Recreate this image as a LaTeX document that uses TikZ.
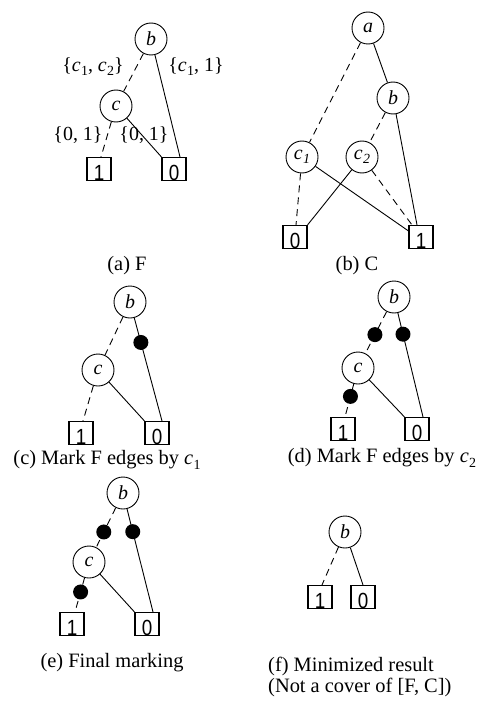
\documentclass[tikz,border=0pt]{standalone}
\usepackage{fontspec}
\setmainfont{Liberation Serif}
\newfontfamily\digitfont{Liberation Sans}
\usetikzlibrary{calc}

% italic c with a lowered index
\newcommand\cvar[1]{\textit{c}\kern0.3pt\raisebox{-0.45ex}{\fontsize{14}{14}\selectfont #1}}
% narrow terminal digit
\newcommand\leafdigit[1]{\scalebox{0.86}[1]{#1}}

\tikzset{
  vnode/.style={circle, draw, line width=0.9bp, minimum size=32bp, inner sep=0pt,
                font=\fontsize{20}{20}\selectfont\itshape},
  leaf/.style={draw, line width=1.1bp, minimum width=24bp, minimum height=23bp, inner sep=0pt,
               text height=22bp, text depth=0pt, font=\fontsize{22}{22}\digitfont},
  lo/.style={line width=0.9bp, dash pattern=on 7bp off 5bp},
  hi/.style={line width=0.9bp},
  dot/.style={circle, fill, minimum size=15bp, inner sep=0pt},
  setlbl/.style={font=\fontsize{20}{20}\selectfont, inner sep=0pt},
  captxt/.style={font=\fontsize{20.5}{22}\selectfont, inner sep=0pt}
}

\begin{document}
\begin{tikzpicture}[x=1bp, y=-1bp]
\useasboundingbox (0,0) rectangle (483,702);

% ---------- (a) F ----------
\node[vnode] (ab) at (151,39) {b};
\node[vnode] (ac) at (116,106) {c};
\node[leaf] (a1) at (99,169) {\leafdigit{1}};
\node[leaf] (a0) at (174,169) {\leafdigit{0}};
\draw[lo] (ab) -- (ac);
\draw[hi] (ab) -- ([xshift=6bp]a0.north);
\draw[lo] (ac) -- ([xshift=2bp]a1.north);
\draw[hi] (ac) -- (a0.north west);
\node[setlbl] (al1) at (93,67) {\{\cvar{1}, \cvar{2}\}};
\node[setlbl] (al2) at (196,67) {\{\cvar{1}, 1\}};
\node[setlbl] (al3) at (78,135) {\{0, 1\}};
\node[setlbl] (al4) at (144,135) {\{0, 1\}};
\node[captxt] (acap) at (127,266) {(a) F};

% ---------- (b) C ----------
\node[vnode] (ba) at (368,28) {a};
\node[vnode] (bb) at (393,98) {b};
\node[vnode] (bc1) at (302,157) {\cvar{1}};
\node[vnode] (bc2) at (362,157) {\cvar{2}};
\node[leaf] (b0) at (295,237) {\leafdigit{0}};
\node[leaf] (b1) at (421,237) {\leafdigit{1}};
\draw[lo] (ba) -- (bc1);
\draw[hi] (ba) -- (bb);
\draw[lo] (bb) -- (bc2);
\draw[hi] (bb) -- ([xshift=-4bp]b1.north);
\draw[lo] (bc1) -- ([xshift=1bp]b0.north);
\draw[hi] (bc1) -- ($(b1.north west)+(0,6)$);
\draw[hi] (bc2) -- (b0.north east);
\draw[lo] (bc2) -- ([xshift=-9bp]b1.north);
\node[captxt] (bcap) at (357,266) {(b) C};

% ---------- (c) mark by c1 ----------
\node[vnode] (cb) at (130,302) {b};
\node[vnode] (cc) at (98,370) {c};
\node[leaf] (c1) at (81,433) {\leafdigit{1}};
\node[leaf] (c0) at (157,433) {\leafdigit{0}};
\coordinate (ce0) at ([xshift=5bp]c0.north);
\draw[lo] (cb) -- (cc);
\draw[hi] (cb) -- (ce0);
\draw[lo] (cc) -- ([xshift=2bp]c1.north);
\draw[hi] (cc) -- (c0.north west);
\node[dot] (cd1) at ($(cb)!0.34!(ce0)$) {};
\node[captxt] (ccap) at (107,460) {(c) Mark F edges by \cvar{1}};

% ---------- (d) mark by c2 ----------
\node[vnode] (db) at (394,297) {b};
\node[vnode] (dc) at (358,368) {c};
\node[leaf] (d1) at (343,429) {\leafdigit{1}};
\node[leaf] (d0) at (417,429) {\leafdigit{0}};
\coordinate (de0) at ([xshift=6bp]d0.north);
\coordinate (de1) at ([xshift=2bp]d1.north);
\draw[lo] (db) -- (dc);
\draw[hi] (db) -- (de0);
\draw[lo] (dc) -- (de1);
\draw[hi] (dc) -- (d0.north west);
\node[dot] (dd1) at ($(db)!0.53!(dc)$) {};
\node[dot] (dd2) at ($(db)!0.31!(de0)$) {};
\node[dot] (dd3) at ($(dc)!0.58!(de1)$) {};
\node[captxt] (dcap) at (382,458) {(d) Mark F edges by \cvar{2}};

% ---------- (e) final marking ----------
\node[vnode] (eb) at (123,493) {b};
\node[vnode] (ec) at (89,562) {c};
\node[leaf] (e1) at (72,624) {\leafdigit{1}};
\node[leaf] (e0) at (147,624) {\leafdigit{0}};
\coordinate (ee0) at ([xshift=6bp]e0.north);
\coordinate (ee1) at ([xshift=3bp]e1.north);
\draw[lo] (eb) -- (ec);
\draw[hi] (eb) -- (ee0);
\draw[lo] (ec) -- (ee1);
\draw[hi] (ec) -- (e0.north west);
\node[dot] (ed1) at ($(eb)!0.565!(ec)$) {};
\node[dot] (ed2) at ($(eb)!0.325!(ee0)$) {};
\node[dot] (ed3) at ($(ec)!0.6!(ee1)$) {};
\node[captxt] (ecap) at (112,663) {(e) Final marking};

% ---------- (f) minimized result ----------
\node[vnode] (fb) at (345,532) {b};
\node[leaf] (f1) at (320,597) {\leafdigit{1}};
\node[leaf] (f0) at (363,597) {\leafdigit{0}};
\draw[lo] (fb) -- ([xshift=2bp]f1.north);
\draw[hi] (fb) -- (f0.north);
\node[captxt, anchor=west, align=left] (fcap) at (268,677) {(f) Minimized result\\(Not a cover of [F, C])};
\end{tikzpicture}
\end{document}
